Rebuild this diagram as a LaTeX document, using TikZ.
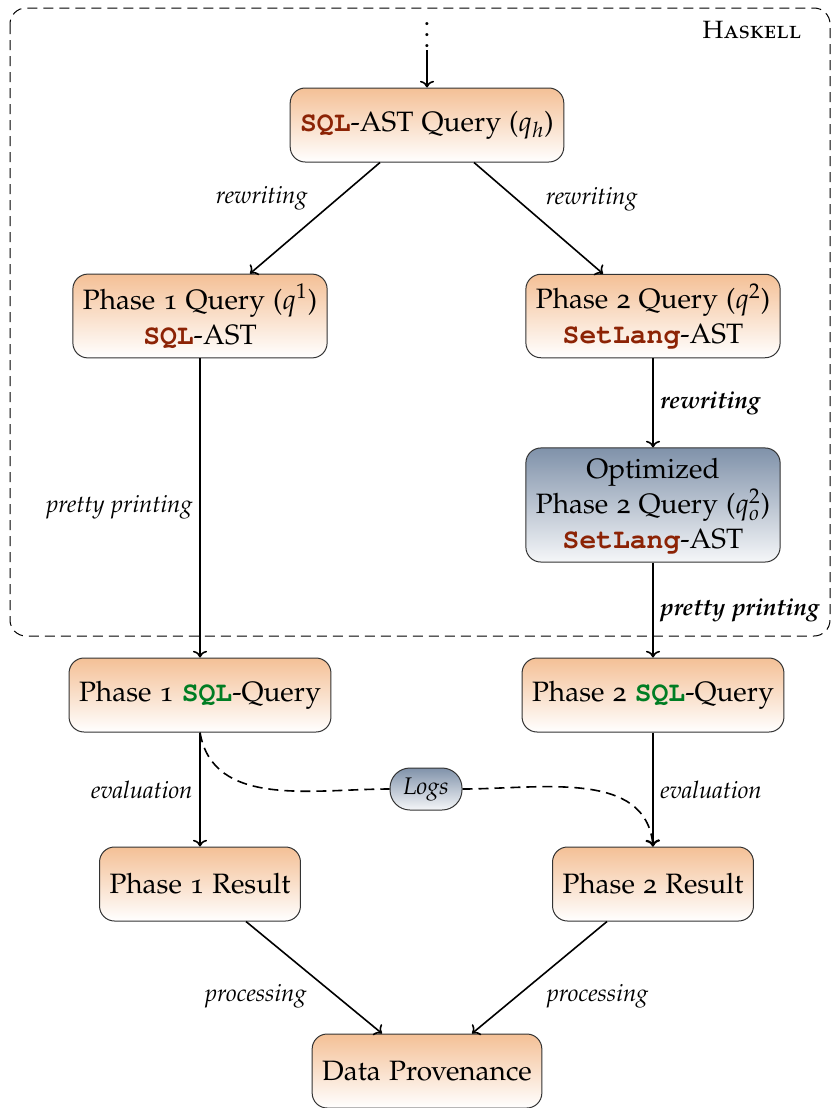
\documentclass[tikz,border=0pt]{standalone}
\usepackage[T1]{fontenc}
\usepackage[osf]{mathpazo}
\usepackage{courier}
\usepackage{xcolor}
\usepackage{tikz}
\usetikzlibrary{positioning, arrows.meta}

\definecolor{sqlred}{RGB}{140,35,5}
\definecolor{sqlgreen}{RGB}{0,125,35}
\definecolor{boxtop}{RGB}{244,192,150}
\definecolor{opttop}{RGB}{128,146,170}

\newcommand{\sqlkw}{\textcolor{sqlred}{\textbf{\texttt{SQL}}}}
\newcommand{\setlangkw}{\textcolor{sqlred}{\textbf{\texttt{SetLang}}}}
\newcommand{\sqlout}{\textcolor{sqlgreen}{\textbf{\texttt{SQL}}}}

\begin{document}
\begin{tikzpicture}[
  x=0.5pt, y=-0.5pt,
  stage/.style={draw=black!80, rounded corners=7.5pt, top color=boxtop,
                bottom color=white, align=center, line width=0.5pt,
                font=\fontsize{14}{17.5}\selectfont, minimum height=37pt,
                inner xsep=5pt, inner ysep=5pt},
  optbox/.style={stage, top color=opttop, bottom color=opttop!8},
  lbl/.style={font=\fontsize{12}{14}\selectfont\itshape},
  blbl/.style={font=\fontsize{12}{14}\selectfont\bfseries\itshape},
  arr/.style={->, line width=0.8pt},
  dashline/.style={dash pattern=on 5pt off 3pt},
]
\useasboundingbox (0,0) rectangle (834,1108);
% haskell part
\draw[dashline, rounded corners=8pt, line width=0.5pt] (10,8) rectangle (830,636);
\node[font=\fontsize{12.5}{14}\selectfont\scshape] (lang) at (752,30) {Haskell};
\node[scale=1.35, anchor=base] (dots) at (427,47) {$\vdots$};
\coordinate (top) at (427,50);

\node[stage] (qh) at (427,125) {\sqlkw-AST Query ($q_h$)};
\node[stage] (p1q) at (200,316) {Phase 1 Query ($q^{1}$)\\\sqlkw-AST};
\node[stage] (p2q) at (653,316) {Phase 2 Query ($q^{2}$)\\\setlangkw-AST};
\node[optbox] (opt) at (653,505)
  {Optimized\\Phase 2 Query ($q^{2}_o$)\\\setlangkw-AST};

% database part
\node[stage] (p1sql) at (200,695) {Phase 1 \sqlout-Query};
\node[stage] (p2sql) at (653,695) {Phase 2 \sqlout-Query};
\node[stage] (p1res) at (200,884) {Phase 1 Result};
\node[stage] (p2res) at (653,884) {Phase 2 Result};
\node[stage] (prov) at (427,1071) {Data Provenance};
\node[optbox, rounded corners=10pt, font=\fontsize{12}{14}\selectfont\itshape,
      minimum height=21pt, minimum width=36pt, inner xsep=3pt, inner ysep=2pt]
  (logs) at (426,789) {Logs};

\draw[arr] (top) -- (qh);
\draw[arr] ([xshift=-23.5pt]qh.south) -- node[lbl, above left] {rewriting} ([xshift=25pt]p1q.north);
\draw[arr] ([xshift=23.5pt]qh.south) -- node[lbl, above right] {rewriting} ([xshift=-25pt]p2q.north);
\draw[arr] (p1q) -- node[lbl, left] {pretty printing} (p1sql);
\draw[arr] (p2q) -- node[blbl, right] {rewriting} (opt);
\draw[arr] (opt) -- node[blbl, right] {pretty printing} (p2sql);
\draw[arr] (p1sql) -- node[lbl, left] {evaluation} (p1res);
\draw[arr] (p2sql) -- node[lbl, right] {evaluation} (p2res);
\draw[arr] ([xshift=23pt]p1res.south) -- node[lbl, below left] {processing} ([xshift=-22.5pt]prov.north);
\draw[arr] ([xshift=-23pt]p2res.south) -- node[lbl, below right] {processing} ([xshift=22.5pt]prov.north);

\draw[dashline, line width=0.8pt] (p1sql.south) to[out=-80, in=180] (logs.west);
\draw[dashline, arr] (logs.east) to[out=0, in=95] (p2res.north);
\end{tikzpicture}
\end{document}
